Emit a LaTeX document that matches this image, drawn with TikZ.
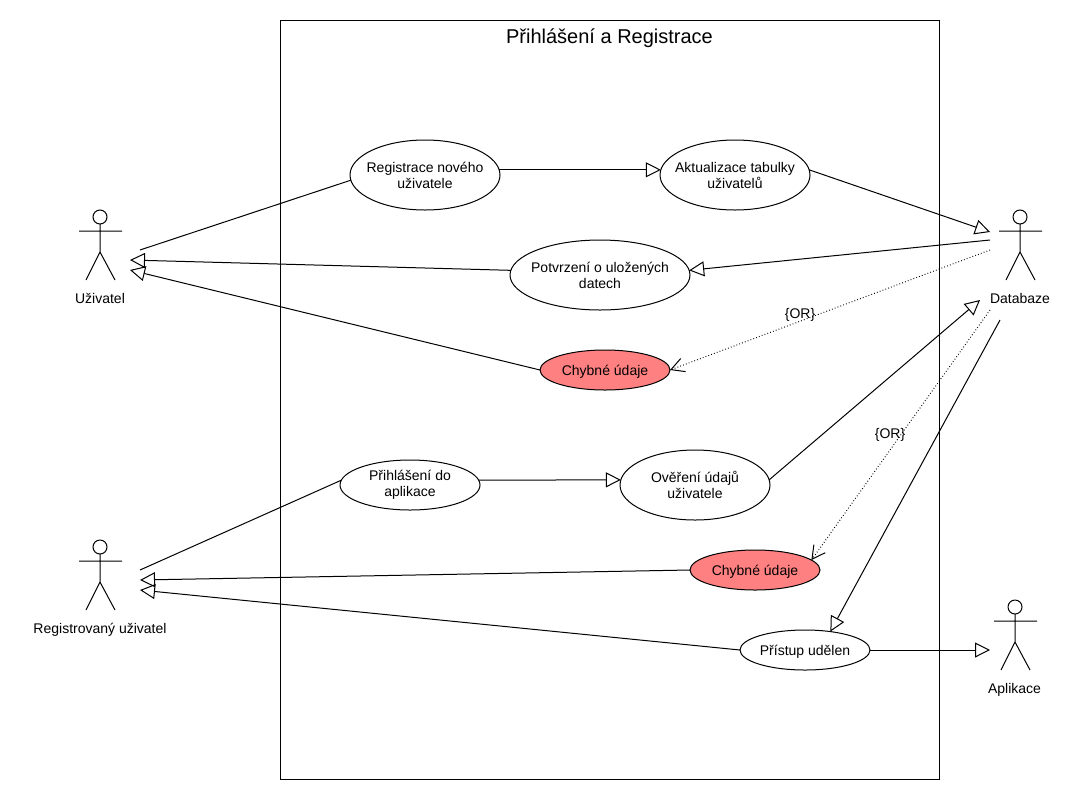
\documentclass[tikz,border=0pt]{standalone}
\usepackage{fontspec}
\setmainfont{Liberation Sans}
\usepackage{xcolor}
\definecolor{errred}{HTML}{FF8080}
\usetikzlibrary{arrows.meta,shapes.geometric}

\begin{document}
\begin{tikzpicture}[
  x=0.75pt,y=-0.75pt,
  line width=0.75pt,
  every node/.style={font=\fontsize{10.5pt}{12pt}\selectfont,align=center,inner sep=0pt,outer sep=0pt},
  usecase/.style={ellipse,draw,fill=white,inner xsep=-20pt,minimum width=#1*0.75pt},
  big/.style={usecase=150,minimum height=52.5pt},
  small/.style={usecase=130,minimum height=30pt,text height=10pt,text depth=2.2pt},
  arr/.style={-{Triangle[open,length=11.25pt,width=11.25pt]}},
  orr/.style={-{Straight Barb[length=9.75pt,width=10.5pt]},dash pattern=on 0.6pt off 1.65pt},
  actor/.pic={
    \draw (0,7) circle[radius=5.25pt];
    \draw (0,14) -- (0,42) (-21,21) -- (22,21) (-14,70) -- (0,42) -- (15,70);
  },
]
\useasboundingbox (0,0) rectangle (1080,800);
\node[draw,minimum width=494.5pt,minimum height=569.5pt] (system) at (609.75,399.75) {};
\node[font=\fontsize{15pt}{18pt}\selectfont] (title) at (609.5,38) {Přihlášení a Registrace};

\pic at (100,210) {actor};
\pic at (1020,210) {actor};
\pic at (100,540) {actor};
\pic at (1015,600) {actor};
\node (uzivatel) at (100,298.5) {Uživatel};
\node (databaze) at (1020,298.5) {Databaze};
\node (regUzivatel) at (100,629.5) {Registrovaný uživatel};
\node (aplikace) at (1014.5,690) {Aplikace};

\node[big] (registrace) at (425,175) {Registrace nového\\uživatele};
\node[big] (aktualizace) at (735,175) {Aktualizace tabulky\\uživatelů};
\node[usecase=180,minimum height=52.5pt] (potvrzeni) at (600,275) {Potvrzení o uložených\\datech};
\node[small,fill=errred] (chybne1) at (605,370) {Chybné údaje};
\node[usecase=140,minimum height=37.5pt] (prihlaseni) at (410,485) {Přihlášení do\\aplikace};
\node[big] (overeni) at (695,485) {Ověření údajů\\uživatele};
\node[small,fill=errred] (chybne2) at (755,570) {Chybné údaje};
\node[small] (pristup) at (805,650) {Přístup udělen};

\coordinate (uzOut) at (140,250);
\coordinate (uzIn1) at (130,260);
\coordinate (uzIn2) at (130,270);
\coordinate (dbIn1) at (990,232);
\coordinate (dbOut1) at (990,240);
\coordinate (dbOut2) at (990,250);
\coordinate (dbIn2) at (980,300);
\coordinate (dbOut3) at (990,310);
\coordinate (dbOut4) at (1000,320);
\coordinate (regOut) at (140,570);
\coordinate (regIn1) at (140,580);
\coordinate (regIn2) at (140,590);
\coordinate (apIn) at (990,650);

\draw (uzOut) -- (registrace.184);
\draw[arr] (registrace.4) -- (aktualizace.176);
\draw[arr] (aktualizace.4) -- (dbIn1);
\draw[arr] (dbOut1) -- (potvrzeni.3);
\draw[arr] (potvrzeni.177) -- (uzIn1);
\draw[arr] (chybne1.west) -- (uzIn2);
\draw[orr] (dbOut2) -- (chybne1.east);
\draw[arr] (overeni.4) -- (dbIn2);
\draw[orr] (dbOut3) -- (chybne2.10);
\draw[arr] (dbOut4) -- (pristup.36);
\draw (regOut) -- (prihlaseni.176);
\draw[arr] (prihlaseni.4) -- (overeni.176);
\draw[arr] (chybne2.west) -- (regIn1);
\draw[arr] (pristup.west) -- (regIn2);
\draw[arr] (pristup.east) -- (apIn);

\node (or1) at (800,315) {\{OR\}};
\node (or2) at (890,435) {\{OR\}};
\end{tikzpicture}
\end{document}
